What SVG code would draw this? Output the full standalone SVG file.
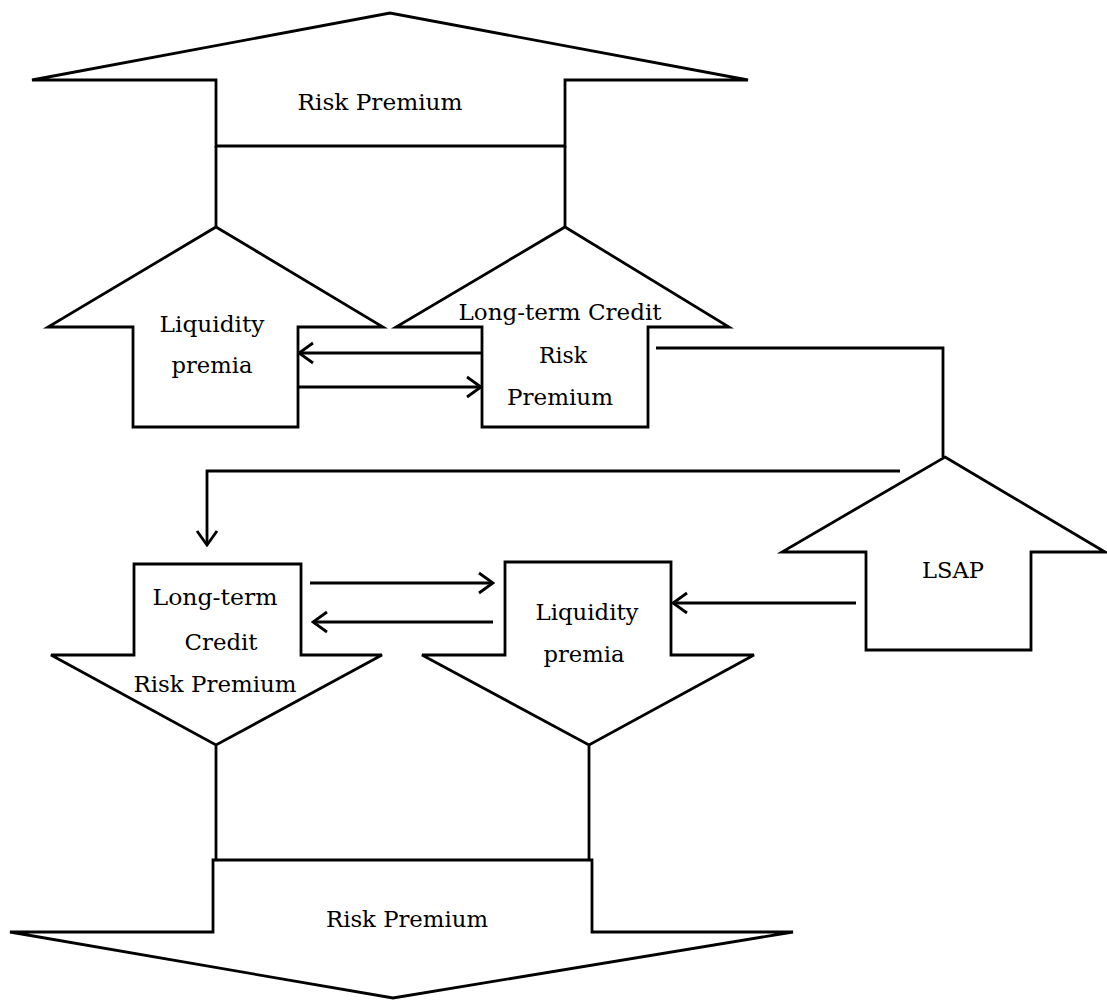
<svg xmlns="http://www.w3.org/2000/svg" width="1107" height="1000" viewBox="0 0 1107 1000">
<style>
.shape{fill:#fff;stroke:#000;stroke-width:2.8;stroke-linejoin:miter}
.con{fill:none;stroke:#000;stroke-width:2.8}
.lbl{font-family:"DejaVu Serif","Liberation Serif",serif;font-size:23px;fill:#000;text-anchor:middle}
</style>
<defs>
<marker id="ah" markerUnits="userSpaceOnUse" markerWidth="18" markerHeight="24" viewBox="0 0 18 24" refX="16" refY="12" orient="auto">
<path d="M2,2 L16,12 L2,22" fill="none" stroke="#000" stroke-width="2.8"/>
</marker>
</defs>
<rect width="1107" height="1000" fill="#fff"/>
<g id="connectors">
<line class="con" x1="216" y1="146" x2="216" y2="227"/>
<line class="con" x1="565" y1="146" x2="565" y2="227"/>
<line class="con" x1="216" y1="745" x2="216" y2="860"/>
<line class="con" x1="589" y1="745" x2="589" y2="860"/>
<polyline class="con" points="656,348 943,348 943,457"/>
<polyline class="con" points="900,471 207,471 207,545" marker-end="url(#ah)"/>
<line class="con" x1="481" y1="353" x2="299" y2="353" marker-end="url(#ah)"/>
<line class="con" x1="299" y1="387" x2="481" y2="387" marker-end="url(#ah)"/>
<line class="con" x1="310" y1="583" x2="493" y2="583" marker-end="url(#ah)"/>
<line class="con" x1="493" y1="622" x2="313" y2="622" marker-end="url(#ah)"/>
<line class="con" x1="856" y1="603" x2="673" y2="603" marker-end="url(#ah)"/>
</g>
<g id="top-risk-premium">
<polygon class="shape" points="32,80 216,80 216,146 565,146 565,80 748,80 390,13"/>
<text class="lbl" x="380" y="110" textLength="165" lengthAdjust="spacingAndGlyphs">Risk Premium</text>
</g>
<g id="up-liquidity">
<polygon class="shape" points="216,227 383,327 298,327 298,427 133,427 133,327 48,327"/>
<text class="lbl" x="212" y="332" textLength="105" lengthAdjust="spacingAndGlyphs">Liquidity</text>
<text class="lbl" x="212" y="373" textLength="81" lengthAdjust="spacingAndGlyphs">premia</text>
</g>
<g id="up-credit">
<polygon class="shape" points="565,227 729,327 648,327 648,427 482,427 482,327 396,327"/>
<text class="lbl" x="560" y="320" textLength="203" lengthAdjust="spacingAndGlyphs">Long-term Credit</text>
<text class="lbl" x="563" y="363" textLength="48" lengthAdjust="spacingAndGlyphs">Risk</text>
<text class="lbl" x="560" y="405" textLength="106" lengthAdjust="spacingAndGlyphs">Premium</text>
</g>
<g id="lsap">
<polygon class="shape" points="945,457 1105,552 1031,552 1031,650 866,650 866,552 782,552"/>
<text class="lbl" x="953" y="578" textLength="62" lengthAdjust="spacingAndGlyphs">LSAP</text>
</g>
<g id="down-credit">
<polygon class="shape" points="134,564 301,564 301,655 382,655 216,745 51,655 134,655"/>
<text class="lbl" x="215" y="605" textLength="125" lengthAdjust="spacingAndGlyphs">Long-term</text>
<text class="lbl" x="221" y="650" textLength="73" lengthAdjust="spacingAndGlyphs">Credit</text>
<text class="lbl" x="215" y="692" textLength="163" lengthAdjust="spacingAndGlyphs">Risk Premium</text>
</g>
<g id="down-liquidity">
<polygon class="shape" points="505,562 671,562 671,655 754,655 589,745 422,655 505,655"/>
<text class="lbl" x="587" y="620" textLength="103" lengthAdjust="spacingAndGlyphs">Liquidity</text>
<text class="lbl" x="584" y="662" textLength="81" lengthAdjust="spacingAndGlyphs">premia</text>
</g>
<g id="bottom-risk-premium">
<polygon class="shape" points="213,860 592,860 592,932 793,932 393,998 10,932 213,932"/>
<text class="lbl" x="407" y="927" textLength="162" lengthAdjust="spacingAndGlyphs">Risk Premium</text>
</g>
</svg>
